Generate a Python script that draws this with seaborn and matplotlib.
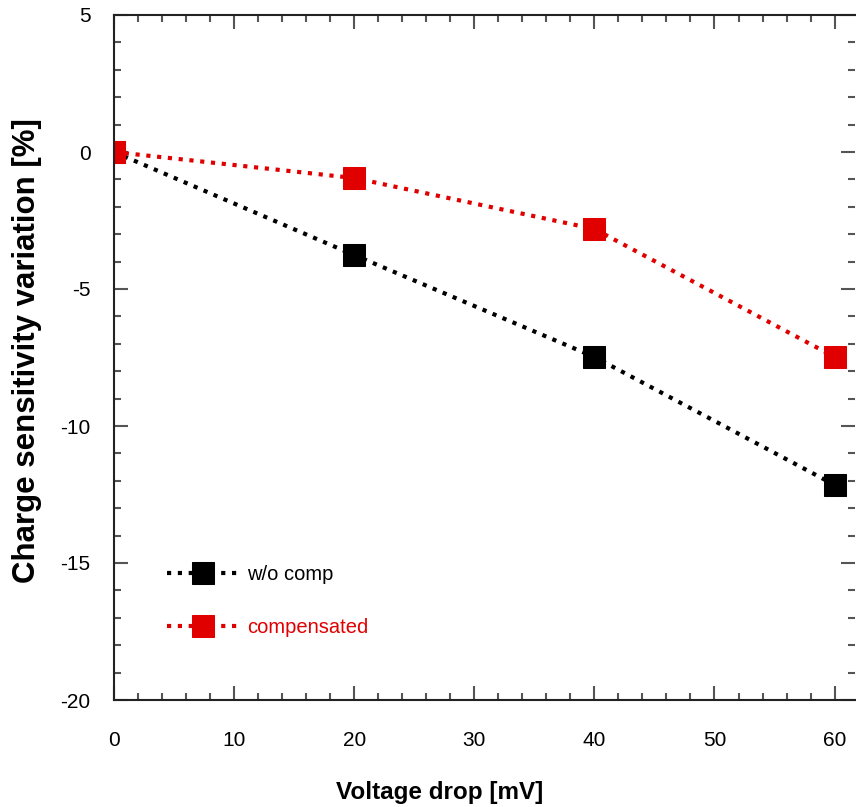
import matplotlib
matplotlib.use("Agg")
import matplotlib.pyplot as plt
import seaborn as sns
import pandas as pd
from matplotlib.ticker import MultipleLocator

# data
voltage_drop = [0, 20, 40, 60]
wo_comp = [0.0, -3.76, -7.48, -12.15]
compensated = [0.0, -0.95, -2.81, -7.48]

series_names = ["w/o comp", "compensated"]
series_colors = ["#000000", "#E00000"]

df = pd.concat([
    pd.DataFrame({"x": voltage_drop, "y": wo_comp, "series": series_names[0]}),
    pd.DataFrame({"x": voltage_drop, "y": compensated, "series": series_names[1]}),
])

sns.set_style("ticks")
plt.rcParams["font.family"] = ["Liberation Sans", "DejaVu Sans"]
plt.rcParams["axes.unicode_minus"] = False
plt.rcParams["text.color"] = "black"
plt.rcParams["axes.labelcolor"] = "black"
plt.rcParams["xtick.labelcolor"] = "black"
plt.rcParams["ytick.labelcolor"] = "black"

fig = plt.figure(figsize=(8.56, 8.07), dpi=100)
ax = fig.add_axes([114 / 856, 1 - 700 / 807, (855 - 114) / 856, (700 - 15) / 807])

for name, color in zip(series_names, series_colors):
    sub = df[df["series"] == name]
    sns.lineplot(
        data=sub, x="x", y="y", ax=ax, color=color, label=name,
        linestyle=(0, (1, 1.6)), linewidth=3, marker="s", markersize=15.5,
        markeredgecolor=color, markerfacecolor=color,
    )

ax.set_xlim(0, 61.7)
ax.set_ylim(-20, 5)
ax.xaxis.set_major_locator(MultipleLocator(10))
ax.xaxis.set_minor_locator(MultipleLocator(2))
ax.yaxis.set_major_locator(MultipleLocator(5))
ax.yaxis.set_minor_locator(MultipleLocator(1))
ax.tick_params(which="both", direction="in", top=True, right=True, color="#555555", width=1.5)
ax.tick_params(which="major", length=10, labelsize=15)
ax.tick_params(which="minor", length=5)
ax.tick_params(axis="x", which="major", pad=22)
ax.tick_params(axis="y", which="major", pad=17)

for side in ["left", "bottom", "top"]:
    ax.spines[side].set_linewidth(1.5)
    ax.spines[side].set_color("#222222")
ax.spines["right"].set_visible(False)

ax.set_xlabel("Voltage drop [mV]", fontsize=17.5, fontweight="bold")
ax.set_ylabel("Charge sensitivity variation [%]", fontsize=22.5, fontweight="bold")
ax.xaxis.set_label_coords((440 - 114) / 741, (700 - 793) / 685)
ax.yaxis.set_label_coords((27 - 114) / 741, (700 - 351) / 685)
ax.xaxis.label.set_va("center")
ax.yaxis.label.set_va("center")

leg = ax.legend(
    loc="lower left", bbox_to_anchor=(0.047, 0.065), frameon=False, fontsize=14.5,
    handlelength=3.6, labelspacing=1.7, handletextpad=0.4,
)
for text, color in zip(leg.get_texts(), series_colors):
    text.set_color(color)

plt.savefig("out.png", dpi=100)
plt.close()
